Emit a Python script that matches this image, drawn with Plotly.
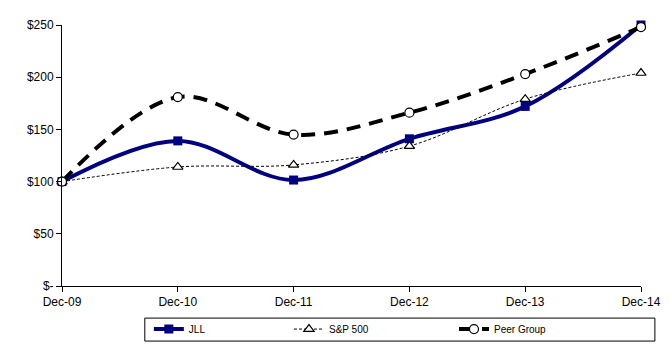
import plotly.graph_objects as go

categories = ["Dec-09", "Dec-10", "Dec-11", "Dec-12", "Dec-13", "Dec-14"]
jll = [100, 139, 101.5, 141, 172, 250]
sp500 = [100, 114, 116, 134, 179, 204]
peer = [100, 181, 145, 166, 203, 248]
y_tickvals = [0, 50, 100, 150, 200, 250]
y_ticktext = ["$-", "$50", "$100", "$150", "$200", "$250"]

fig = go.Figure()
fig.add_trace(go.Scatter(
    x=categories, y=jll, name="JLL", mode="lines+markers", legend="legend", cliponaxis=False,
    line=dict(color="#000080", width=4, shape="spline", smoothing=1),
    marker=dict(symbol="square", size=9, color="#000080"),
))
fig.add_trace(go.Scatter(
    x=categories, y=sp500, name="S&P 500", mode="lines+markers", legend="legend2", cliponaxis=False,
    line=dict(color="black", width=1, dash="3px,2px", shape="spline", smoothing=1),
    marker=dict(symbol="triangle-up", size=9, color="white", line=dict(color="black", width=1.2)),
))
fig.add_trace(go.Scatter(
    x=categories, y=peer, name="Peer Group", mode="lines+markers", legend="legend3", cliponaxis=False,
    line=dict(color="black", width=4, dash="14px,9px", shape="spline", smoothing=1),
    marker=dict(symbol="circle", size=9, color="white", line=dict(color="black", width=1.2)),
))

fig.add_shape(type="rect", xref="paper", yref="paper",
              x0=0.143, x1=1.024, y0=-0.211, y1=-0.123,
              line=dict(color="black", width=1), fillcolor="rgba(0,0,0,0)")

leg_common = dict(orientation="h", yanchor="middle", xanchor="left", y=-0.165,
                  font=dict(size=10), bgcolor="rgba(0,0,0,0)", borderwidth=0)

fig.update_layout(
    width=670, height=351,
    margin=dict(l=62, r=29, t=25, b=65, autoexpand=False),
    paper_bgcolor="white", plot_bgcolor="white",
    font=dict(family="Arial, Liberation Sans, sans-serif", size=12, color="black"),
    showlegend=True,
    legend=dict(x=0.150, **leg_common),
    legend2=dict(x=0.392, **leg_common),
    legend3=dict(x=0.677, **leg_common),
    xaxis=dict(type="category", range=[0, 5], showline=True, linecolor="black", linewidth=1,
               ticks="outside", ticklen=5, tickcolor="black", showgrid=False, zeroline=False,
               tickfont=dict(size=12)),
    yaxis=dict(range=[0, 250], tickvals=y_tickvals, ticktext=y_ticktext,
               showline=True, linecolor="black", linewidth=1,
               ticks="outside", ticklen=5, tickcolor="black", showgrid=False, zeroline=False,
               tickfont=dict(size=12)),
)

fig.write_html("out.html")
